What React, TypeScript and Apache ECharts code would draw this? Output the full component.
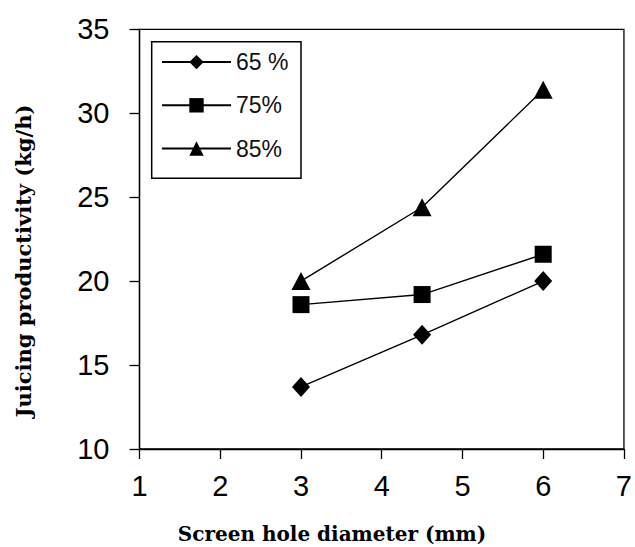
import React, { useEffect, useRef } from "react";
import * as echarts from "echarts";

const xValues = [3, 4.5, 6];
const seriesNames = ["65 %", "75%", "85%"];
const series65 = [13.7, 16.8, 20.0];
const series75 = [18.6, 19.2, 21.6];
const series85 = [20.0, 24.4, 31.4];
const xTitle = "Screen hole diameter (mm)";
const yTitle = "Juicing productivity (kg/h)";

export default function App() {
  const ref = useRef<HTMLDivElement>(null);
  useEffect(() => {
    if (!ref.current) return;
    const chart = echarts.init(ref.current, null, { renderer: "svg" });
    const pair = (ys: number[]) => xValues.map((x, i) => [x, ys[i]]);
    const mk = (name: string, ys: number[], symbol: string, size: any) => ({
      name,
      type: "line",
      data: pair(ys),
      symbol,
      symbolSize: size,
      lineStyle: { color: "#000", width: 1.4 },
      itemStyle: { color: "#000" },
      z: 3,
    });
    chart.setOption({
      animation: false,
      backgroundColor: "#fff",
      grid: {
        left: 139.5,
        right: 8,
        top: 29.3,
        bottom: 98,
        show: true,
        borderColor: "#000",
        borderWidth: 1.3,
      },
      xAxis: {
        type: "value",
        min: 1,
        max: 7,
        interval: 1,
        axisLine: { show: true, lineStyle: { color: "#000", width: 1.3 } },
        axisTick: { show: true, length: 10, lineStyle: { color: "#000", width: 1.3 } },
        axisLabel: {
          color: "#000",
          fontFamily: "Liberation Sans, Arial, sans-serif",
          fontSize: 29,
          margin: 22,
        },
        splitLine: { show: false },
      },
      yAxis: {
        type: "value",
        min: 10,
        max: 35,
        interval: 5,
        axisLine: { show: true, lineStyle: { color: "#000", width: 1.3 } },
        axisTick: { show: true, length: 10, lineStyle: { color: "#000", width: 1.3 } },
        axisLabel: {
          color: "#000",
          fontFamily: "Liberation Sans, Arial, sans-serif",
          fontSize: 29,
          margin: 30,
        },
        splitLine: { show: false },
      },
      legend: {
        orient: "vertical",
        left: 161,
        top: 50.6,
        padding: 0,
        itemWidth: 69,
        itemHeight: 18,
        itemGap: 20.2,
        itemTextGap: 6,
        data: seriesNames,
        textStyle: {
          color: "#111",
          fontFamily: "Liberation Sans, Arial, sans-serif",
          fontSize: 23,
          lineHeight: 18,
        },
      },
      graphic: [
        {
          type: "rect",
          shape: { x: 151.7, y: 41.7, width: 149.3, height: 136.6 },
          style: { fill: "none", stroke: "#000", lineWidth: 1.5 },
          z: 1,
        },
        {
          type: "text",
          x: 332,
          y: 534,
          style: {
            text: xTitle,
            fill: "#000",
            font: "bold 20px 'DejaVu Serif', serif",
            textAlign: "center",
            textVerticalAlign: "middle",
          },
        },
        {
          type: "text",
          x: 23,
          y: 261,
          rotation: Math.PI / 2,
          style: {
            text: yTitle,
            fill: "#000",
            font: "bold 21px 'DejaVu Serif', serif",
            textAlign: "center",
            textVerticalAlign: "middle",
          },
        },
      ],
      series: [
        mk(seriesNames[0], series65, "diamond", [18, 20]),
        mk(seriesNames[1], series75, "rect", [17, 17]),
        mk(seriesNames[2], series85, "triangle", [19, 18]),
      ],
    });
    return () => chart.dispose();
  }, []);
  return (
    <div
      ref={ref}
      style={{ position: "fixed", left: 0, top: 0, width: 635, height: 547 }}
    />
  );
}
